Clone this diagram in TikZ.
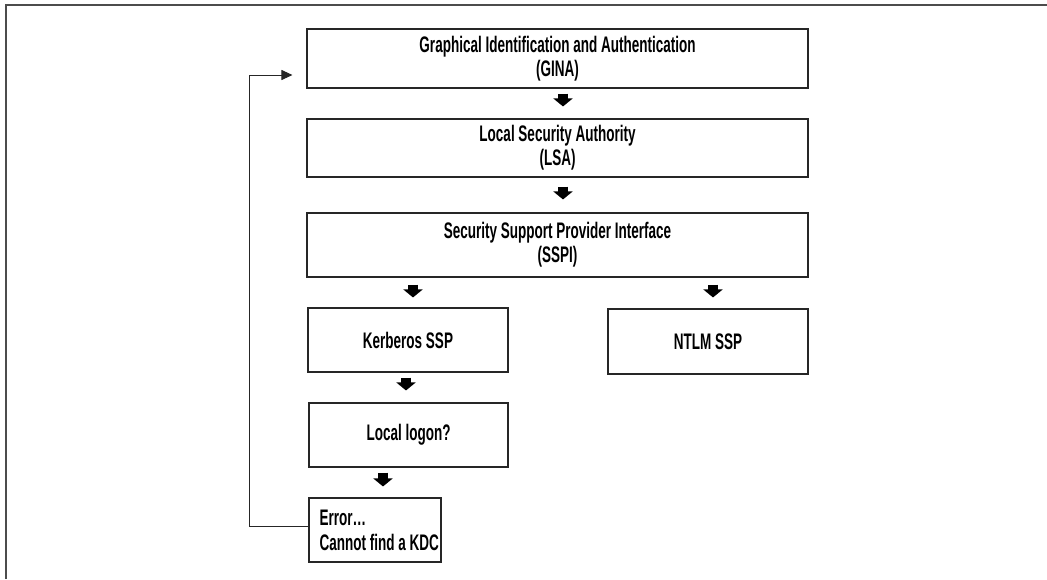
\documentclass[tikz,border=0pt]{standalone}
\usepackage{fontspec}
\setmainfont{Liberation Sans}[FakeStretch=0.6]
\usetikzlibrary{arrows.meta,calc}

\tikzset{
  stagebox/.style={draw=black!85, line width=1.1pt, fill=white, inner sep=0pt,
    align=center, font=\fontsize{22.5}{24}\selectfont\bfseries},
  boxtext/.style={inner sep=0pt, align=left,
    font=\fontsize{22.5}{25}\selectfont\bfseries},
  fatarrow/.style={line width=10pt, black,
    -{Triangle[width=19pt,length=8pt]}},
  backlink/.style={line width=1pt, black!85,
    -{Triangle[width=10pt,length=11pt]}},
  frameline/.style={line width=2pt, black!70}
}

\begin{document}
\begin{tikzpicture}[x=1pt,y=-1pt]
  \useasboundingbox (0,0) rectangle (1047,579);

  % open frame round the figure
  \draw[frameline] (6,579) -- (6,5) -- (1047,5);

  % authentication stack
  \node[stagebox, minimum width=501pt, minimum height=59pt] (gina) at (557.5,58.5)
    {Graphical Identification and Authentication\\(GINA)};
  \node[stagebox, minimum width=501pt, minimum height=58pt] (lsa) at (557.5,148)
    {Local Security Authority\\(LSA)};
  \node[stagebox, minimum width=501pt, minimum height=64pt] (sspi) at (557.5,245)
    {Security Support Provider Interface\\(SSPI)};

  % security support providers
  \node[stagebox, minimum width=200pt, minimum height=64pt] (kerb) at (408,340)
    {Kerberos SSP};
  \node[stagebox, minimum width=200pt, minimum height=65pt] (ntlm) at (708,341.5)
    {NTLM SSP};

  % Kerberos path
  \node[stagebox, minimum width=199pt, minimum height=64pt] (local) at (408.5,435)
    {Local logon?};
  \node[stagebox, minimum width=132pt, minimum height=64pt] (err) at (375,530) {};
  \node[boxtext, anchor=west] (errtxt) at ($(err.west)+(11,0)$)
    {Error\ldots\\Cannot find a KDC};

  % flow between the stages
  \draw[fatarrow] ($(gina.south)+(5.5,5)$) -- ($(lsa.north)+(5.5,-12)$);
  \draw[fatarrow] ($(lsa.south)+(5.5,9)$) -- ($(sspi.north)+(5.5,-13)$);
  \draw[fatarrow] ($(sspi.south)+(-144.5,7)$) -- ($(kerb.north)+(5,-10)$);
  \draw[fatarrow] ($(sspi.south)+(155.5,7)$) -- ($(ntlm.north)+(5,-11)$);
  \draw[fatarrow] ($(kerb.south)+(-2,5)$) -- ($(local.north)+(-2.5,-12)$);
  \draw[fatarrow] ($(local.south)+(-25.5,5)$) -- ($(err.north)+(8,-11)$);

  % failure returns to the logon dialog
  \draw[backlink] ($(err.west)+(0,-4)$) -- ++(-59,0)
    |- ($(gina.west)+(-14,16.5)$);
\end{tikzpicture}
\end{document}
